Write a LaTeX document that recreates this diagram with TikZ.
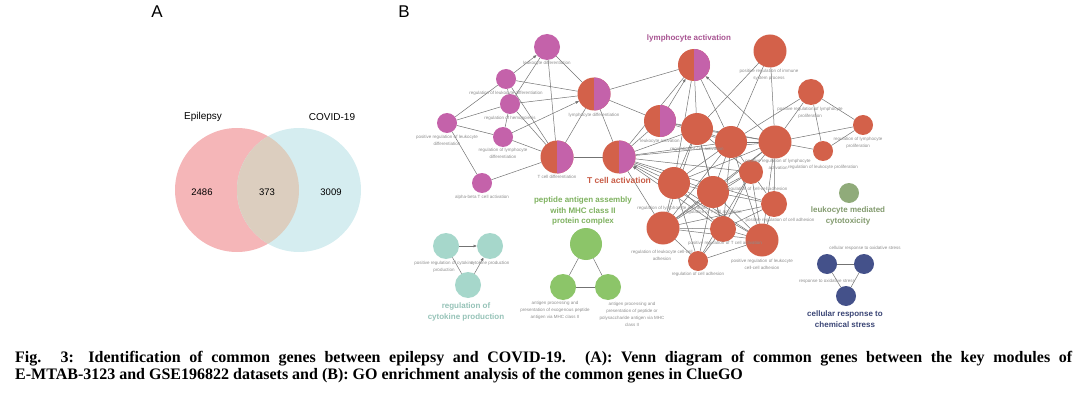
\documentclass[tikz,border=0pt]{standalone}
\usepackage{fontspec}
\setmainfont{Liberation Sans}
\newfontfamily\capfont{Liberation Serif}
\usepackage{xcolor}
\usetikzlibrary{backgrounds,arrows.meta}

\definecolor{goorange}{HTML}{D3614A}
\definecolor{gomagenta}{HTML}{C462AA}
\definecolor{goteal}{HTML}{A6D7CB}
\definecolor{gogreen}{HTML}{8CC569}
\definecolor{goolive}{HTML}{90AB7A}
\definecolor{gonavy}{HTML}{44518A}
\definecolor{lblgray}{HTML}{8C8C8C}
\definecolor{venpink}{HTML}{F5B6B8}
\definecolor{vencyan}{HTML}{D5EDF0}
\definecolor{venmix}{HTML}{DCCEBF}

\tikzset{
  gonode/.style={circle, inner sep=0pt, outer sep=0pt},
  golabel/.style={font=\fontsize{4.5}{7}\selectfont, text=lblgray, align=center, inner sep=0pt},
  gotitle/.style={font=\bfseries\fontsize{8}{10.5}\selectfont, align=center, inner sep=0pt},
  goedge/.style={draw=black!55, line width=0.5pt},
  goarrow/.style={goedge, -{Latex[length=3.5pt,width=3pt]}},
}

% half orange / half magenta term
\newcommand{\splitnode}[4]{%
  \node[gonode, minimum size=#4, fill=goorange] (#1) at (#2,#3) {};
  \fill[gomagenta] (#1.north) arc (90:-90:#4/2) -- cycle;}

\begin{document}
\begin{tikzpicture}[x=1pt, y=-1pt]
\useasboundingbox (0,0) rectangle (1087,393);

% Panel letters
\node[font=\fontsize{17}{17}\selectfont] (pA) at (157,12) {A};
\node[font=\fontsize{17}{17}\selectfont] (pB) at (404,12) {B};

% Venn diagram
\fill[venpink] (237,190) circle (62pt);
\fill[vencyan] (299,190) circle (62pt);
\begin{scope}
  \clip (237,190) circle (62pt);
  \fill[venmix] (299,190) circle (62pt);
\end{scope}
\node[font=\fontsize{10}{12}\selectfont] (epi) at (203,117) {Epilepsy};
\node[font=\fontsize{10}{12}\selectfont] (cov) at (332,117) {COVID-19};
\node[font=\fontsize{9.5}{12}\selectfont] (n1) at (202,192) {2486};
\node[font=\fontsize{9.5}{12}\selectfont] (n2) at (267,192) {373};
\node[font=\fontsize{9.5}{12}\selectfont] (n3) at (331,192) {3009};

% Magenta terms
\node[gonode, minimum size=26pt, fill=gomagenta] (ld) at (547,47) {};
\node[gonode, minimum size=20pt, fill=gomagenta] (rld) at (506,79) {};
\node[gonode, minimum size=20pt, fill=gomagenta] (rh) at (510,104) {};
\node[gonode, minimum size=20pt, fill=gomagenta] (prld) at (447,123) {};
\node[gonode, minimum size=20pt, fill=gomagenta] (rlyd) at (503,137) {};
\node[gonode, minimum size=20pt, fill=gomagenta] (abt) at (482,183) {};
\splitnode{lyd}{594}{94}{33pt}
\splitnode{tcd}{557}{157}{33pt}
\splitnode{tca}{619}{157}{33pt}
\splitnode{lya}{694}{65}{32pt}
\splitnode{lea}{660}{121}{32pt}

% Orange terms
\node[gonode, minimum size=33pt, fill=goorange] (prisp) at (770,51) {};
\node[gonode, minimum size=26pt, fill=goorange] (prlp) at (811,92) {};
\node[gonode, minimum size=20pt, fill=goorange] (rlp) at (863,125) {};
\node[gonode, minimum size=20pt, fill=goorange] (rlep) at (823,151) {};
\node[gonode, minimum size=32pt, fill=goorange] (o1) at (697,129) {};
\node[gonode, minimum size=32pt, fill=goorange] (o2) at (731,142) {};
\node[gonode, minimum size=33pt, fill=goorange] (o3) at (775,142) {};
\node[gonode, minimum size=24pt, fill=goorange] (o4) at (751,172) {};
\node[gonode, minimum size=32pt, fill=goorange] (o5) at (674,183) {};
\node[gonode, minimum size=32pt, fill=goorange] (o6) at (713,192) {};
\node[gonode, minimum size=26pt, fill=goorange] (o7) at (774,204) {};
\node[gonode, minimum size=33pt, fill=goorange] (o8) at (663,228) {};
\node[gonode, minimum size=26pt, fill=goorange] (o9) at (723,229) {};
\node[gonode, minimum size=33pt, fill=goorange] (o10) at (762,240) {};
\node[gonode, minimum size=20pt, fill=goorange] (o11) at (698,261) {};

% Small groups
\node[gonode, minimum size=26pt, fill=goteal] (prcp) at (446,246) {};
\node[gonode, minimum size=26pt, fill=goteal] (cp) at (490,246) {};
\node[gonode, minimum size=26pt, fill=goteal] (rcp) at (468,285) {};
\node[gonode, minimum size=32pt, fill=gogreen] (g1) at (586,244) {};
\node[gonode, minimum size=26pt, fill=gogreen] (g2) at (563,287) {};
\node[gonode, minimum size=26pt, fill=gogreen] (g3) at (608,287) {};
\node[gonode, minimum size=20pt, fill=goolive] (cyt) at (849,193) {};
\node[gonode, minimum size=20pt, fill=gonavy] (c1) at (827,264) {};
\node[gonode, minimum size=20pt, fill=gonavy] (c2) at (864,264) {};
\node[gonode, minimum size=20pt, fill=gonavy] (c3) at (846,296) {};

% Connections
\begin{scope}[on background layer]
\foreach \a/\b in {prld/rld, prld/rh, prld/rlyd, prld/abt, rld/rh, rh/rlyd,
    rld/lyd, rh/lyd, rld/tcd, rh/tcd, rlyd/tcd, rh/ld, ld/tcd, ld/lyd,
    abt/tcd, lyd/tcd, lyd/tca, tcd/tca, lyd/lya, lyd/lea,
    lya/tca, lya/o1, lya/o5, lya/o2, lea/tca, lea/o1, lea/o2, lea/o3,
    tca/o1, tca/o2, tca/o3, tca/o4, tca/o5, tca/o6, tca/o7, tca/o8,
    prisp/o1, prisp/o2, prisp/o3, prlp/o3, prlp/o2, prlp/rlp, prlp/rlep,
    rlp/rlep, rlp/o3, rlep/o3,
    o1/o2, o1/o3, o1/o4, o1/o5, o1/o6, o1/o8, o1/o9, o2/o3, o2/o4, o2/o5,
    o2/o6, o2/o8, o2/o9, o2/o10, o3/o4, o3/o5, o3/o6, o3/o7, o3/o8, o3/o10,
    o4/o6, o4/o7, o4/o8, o4/o9, o4/o10, o4/o11, o5/o6, o5/o8, o5/o9,
    o5/o10, o5/o11, o6/o7, o6/o8, o6/o9, o6/o10, o6/o11, o7/o8, o7/o9,
    o7/o10, o8/o9, o8/o10, o8/o11, o9/o10, o9/o11, o10/o11,
    prcp/rcp, g1/g2, g1/g3, g2/g3, c1/c2, c1/c3, c2/c3}
  \draw[goedge] (\a) -- (\b);
\foreach \a/\b in {rld/ld, rlyd/lyd, lea/lya, o3/lya, o9/tca, o10/tca,
    prcp/cp, rcp/cp}
  \draw[goarrow] (\a) -- (\b);
\end{scope}

% Term labels
\node[golabel] (ld-l) at (547,63) {leukocyte differentiation};
\node[golabel] (rld-l) at (506,93) {regulation of leukocyte differentiation};
\node[golabel] (rh-l) at (510,118) {regulation of hemopoiesis};
\node[golabel] (prld-l) at (447,140.5) {positive regulation of leukocyte\\differentiation};
\node[golabel] (rlyd-l) at (503,153.5) {regulation of lymphocyte\\differentiation};
\node[golabel] (abt-l) at (482,197) {alpha-beta T cell activation};
\node[golabel] (lyd-l) at (594,115) {lymphocyte differentiation};
\node[golabel] (tcd-l) at (557,177) {T cell differentiation};
\node[golabel] (lea-l) at (660,141) {leukocyte activation};
\node[golabel] (prisp-l) at (769,75) {positive regulation of immune\\system process};
\node[golabel] (prlp-l) at (810,113) {positive regulation of lymphocyte\\proliferation};
\node[golabel] (rlp-l) at (858,142.5) {regulation of lymphocyte\\proliferation};
\node[golabel] (rlep-l) at (823,167) {regulation of leukocyte proliferation};
\node[golabel] (o1-l) at (697,149) {regulation of cell activation};
\node[golabel] (o3-l) at (778,164) {positive regulation of lymphocyte\\activation};
\node[golabel] (o4-l) at (757,189) {regulation of cell-cell adhesion};
\node[golabel] (o5-l) at (672,208) {regulation of lymphocyte activation};
\node[golabel] (o6-l) at (713,212) {regulation of T cell activation};
\node[golabel] (o7-l) at (780,220) {positive regulation of cell adhesion};
\node[golabel] (o8-l) at (662,255) {regulation of leukocyte cell-cell\\adhesion};
\node[golabel] (o9-l) at (725,243) {positive regulation of T cell activation};
\node[golabel] (o10-l) at (762,264.5) {positive regulation of leukocyte\\cell-cell adhesion};
\node[golabel] (o11-l) at (698,274) {regulation of cell adhesion};
\node[golabel] (prcp-l) at (444,266.5) {positive regulation of cytokine\\production};
\node[golabel] (cp-l) at (490,263) {cytokine production};
\node[golabel] (g2-l) at (555,310.5) {antigen processing and\\presentation of exogenous peptide\\antigen via MHC class II};
\node[golabel] (g3-l) at (632,314) {antigen processing and\\presentation of peptide or\\polysaccharide antigen via MHC\\class II};
\node[golabel] (c2-l) at (865,248) {cellular response to oxidative stress};
\node[golabel] (c1-l) at (827,281) {response to oxidative stress};

% Group titles
\node[gotitle, text=gomagenta!85!black] (lya-t) at (689,38) {lymphocyte activation};
\node[gotitle, text=goorange!95!black, font=\bfseries\fontsize{8.5}{10.5}\selectfont] (tca-t) at (619,180) {T cell activation};
\node[gotitle, text=gogreen!90!black] (g1-t) at (583,211) {peptide antigen assembly\\with MHC class II\\protein complex};
\node[gotitle, text=goteal!90!black] (rcp-t) at (466,312) {regulation of\\cytokine production};
\node[gotitle, text=goolive!90!black] (cyt-t) at (848,216) {leukocyte mediated\\cytotoxicity};
\node[gotitle, text=gonavy!85!black] (c3-t) at (845,319) {cellular response to\\chemical stress};

% Caption
\node[anchor=north west, inner sep=0pt, text width=1057pt, align=justify,
  font=\capfont\bfseries\fontsize{16}{17.5}\selectfont] (cap) at (15,351)
  {\hyphenpenalty=10000\exhyphenpenalty=10000 Fig. 3: Identification of common genes between epilepsy and COVID-19. (A): Venn diagram of common genes between the key modules of\linebreak E-MTAB-3123 and GSE196822 datasets and (B): GO enrichment analysis of the common genes in ClueGO};
\end{tikzpicture}
\end{document}
